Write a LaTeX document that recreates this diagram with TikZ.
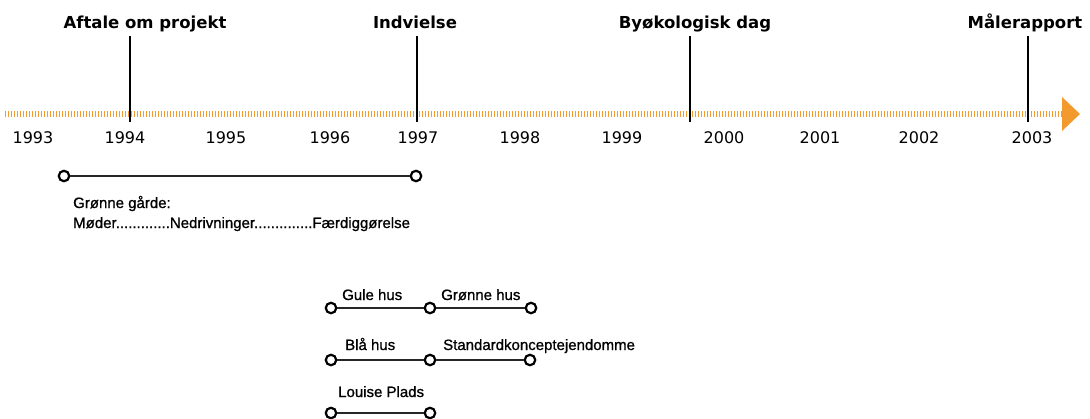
\documentclass[tikz,border=0pt]{standalone}
\usepackage{fontspec}
\setmainfont{DejaVu Sans}
\newfontface\labelfont{Liberation Sans}[FakeBold=1]
\definecolor{tlorange}{HTML}{F39A2E}
\begin{document}
\begin{tikzpicture}[x=1pt,y=-1pt,
  yearlbl/.style={anchor=base,inner sep=0pt,font=\fontsize{16}{18}\selectfont},
  eventlbl/.style={anchor=base,inner sep=0pt,font=\fontsize{16.5}{19}\selectfont\bfseries},
  eventline/.style={line width=2pt},
  stop/.style={circle,draw,line width=2.2pt,fill=white,minimum size=10.5pt,inner sep=0pt},
  barlbl/.style={anchor=base west,inner sep=0pt,font=\fontsize{15}{17}\labelfont},
  bar/.style={line width=1.2pt,black!85}]
  \useasboundingbox (0,0) rectangle (1090,418);
  % timeline
  \coordinate (tstart) at (5,114); \coordinate (tend) at (1062,114);
  \draw[tlorange,line width=6pt,dash pattern=on 1pt off 2pt] (tstart) -- (tend);
  \fill[tlorange] (1062,97) -- (1080,114) -- (1062,131) -- cycle;
  \foreach \yr/\x in {1993/33,1994/125,1995/226,1996/330,1997/418,1998/520,
                      1999/622,2000/724,2001/820,2002/919,2003/1032}
    \node[yearlbl] (y\yr) at (\x,143) {\yr};
  % events
  \foreach \name/\x/\lx/\txt in {aftale/130/145/Aftale om projekt,indviel/417/415/Indvielse,
                                 byoek/690/695/Byøkologisk dag,maaler/1028/1025/Målerapport}{
    \node[eventlbl] (\name) at (\lx,28) {\txt};
    \coordinate (\name top) at (\x,36); \coordinate (\name bot) at (\x,122);
    \draw[eventline] (\name top) -- (\name bot);
  }
  % Grønne gårde
  \node[stop] (gg1) at (64,176) {}; \node[stop] (gg2) at (416,176) {};
  \draw[bar] (gg1) -- (gg2);
  \node[barlbl] (gglbl) at (73,208) {Grønne gårde:};
  \node[barlbl] (ggsteps) at (73,228) {Møder.............Nedrivninger..............Færdiggørelse};
  % huse
  \node[stop] (gul1) at (331,308) {}; \node[stop] (gul2) at (430,308) {}; \node[stop] (gul3) at (531,308) {};
  \draw[bar] (gul1) -- (gul2) -- (gul3);
  \node[barlbl] (gullbl) at (342,300) {Gule hus}; \node[barlbl] (groenlbl) at (441,300) {Grønne hus};
  \node[stop] (blaa1) at (331,360) {}; \node[stop] (blaa2) at (430,360) {}; \node[stop] (blaa3) at (530,360) {};
  \draw[bar] (blaa1) -- (blaa2) -- (blaa3);
  \node[barlbl] (blaalbl) at (345,350) {Blå hus}; \node[barlbl] (stdlbl) at (443,350) {Standardkonceptejendomme};
  \node[stop] (lp1) at (331,413) {}; \node[stop] (lp2) at (430,413) {};
  \draw[bar] (lp1) -- (lp2);
  \node[barlbl] (lplbl) at (338,397) {Louise Plads};
\end{tikzpicture}
\end{document}
